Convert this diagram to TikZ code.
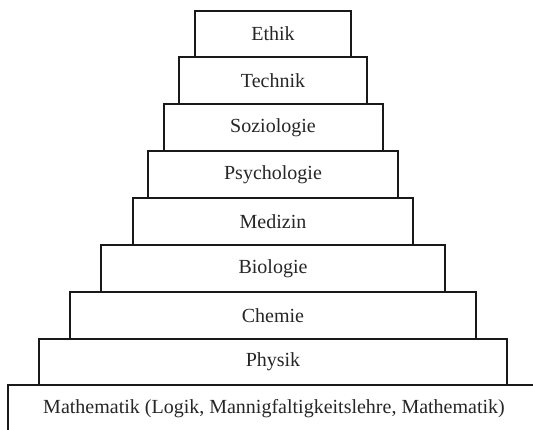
\documentclass[tikz,border=0pt]{standalone}
\usepackage{fontspec}
\setmainfont{Liberation Serif}
\begin{document}
\begin{tikzpicture}[x=1pt,y=-1pt,
  layer/.style={draw=black!90,line width=1.3pt,fill=white},
  lbl/.style={font=\fontsize{20}{22}\selectfont,text=black!85,inner sep=0pt}]
\useasboundingbox (0,0) rectangle (533,430);
\begin{scope}
\clip (0,0) rectangle (533,430);
\draw[layer] (8,385) rectangle (560,460);
\end{scope}
\draw[layer] (39,339) rectangle (507,385);
\draw[layer] (70,292) rectangle (476,339);
\draw[layer] (101,245) rectangle (445,292);
\draw[layer] (133,198) rectangle (413,245);
\draw[layer] (148,151) rectangle (398,198);
\draw[layer] (164,104) rectangle (383,151);
\draw[layer] (179,57) rectangle (367,104);
\draw[layer] (195,11) rectangle (351,57);
\node[lbl] (ethik) at (273,34) {Ethik};
\node[lbl] (technik) at (273,81) {Technik};
\node[lbl] (sozio) at (273,128) {Soziologie};
\node[lbl] (psycho) at (273,175) {Psychologie};
\node[lbl] (medizin) at (273,222) {Medizin};
\node[lbl] (bio) at (273,269) {Biologie};
\node[lbl] (chemie) at (273,316) {Chemie};
\node[lbl] (physik) at (273,362) {Physik};
\node[lbl] (mathe) at (274,409) {Mathematik (Logik, Mannigfaltigkeitslehre, Mathematik)};
\end{tikzpicture}
\end{document}
